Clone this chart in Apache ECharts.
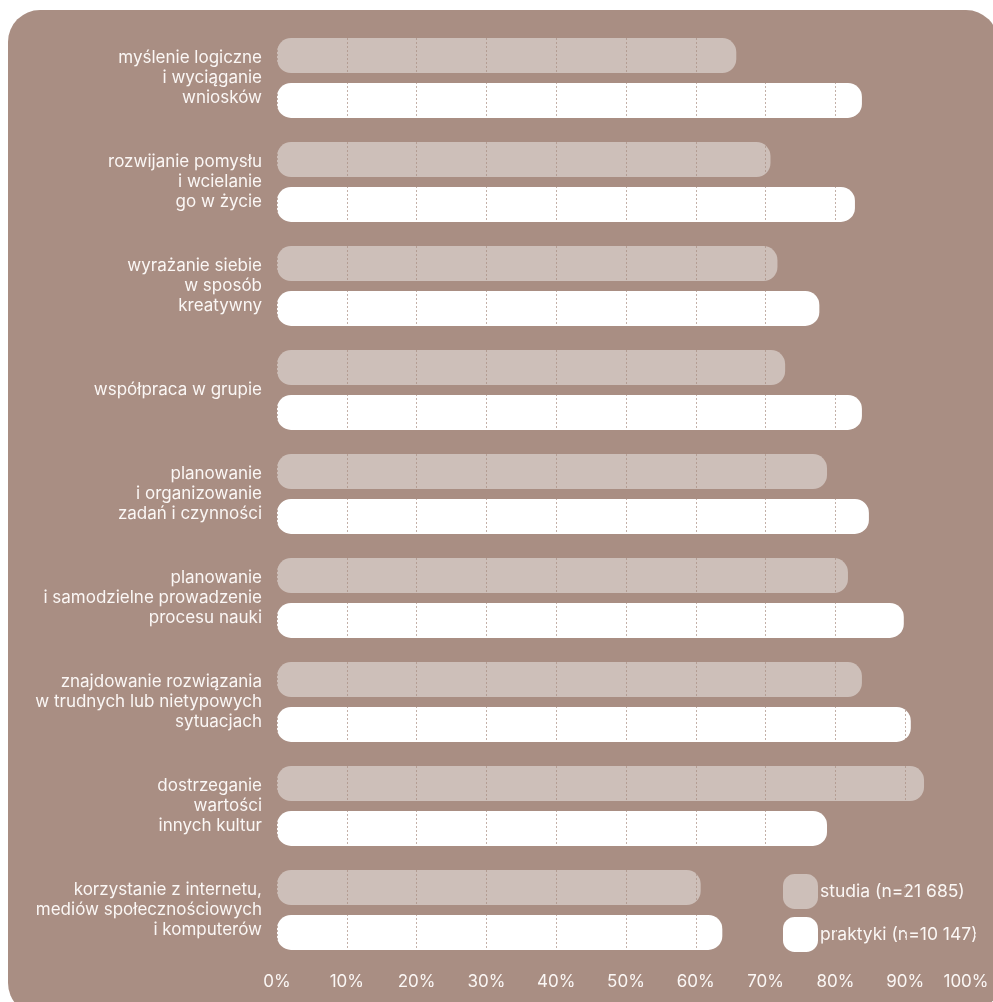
<!DOCTYPE html>
<html>
<head>
<meta charset="utf-8">
<script src="https://cdn.jsdelivr.net/npm/echarts@6/dist/echarts.min.js"></script>
<style>
html,body{margin:0;padding:0;background:#ffffff;}
#c{width:993px;height:1002px;}
</style>
</head>
<body>
<div id="c"></div>
<script>
const categories = [
  "myślenie logiczne\ni wyciąganie\nwniosków",
  "rozwijanie pomysłu\ni wcielanie\ngo w życie",
  "wyrażanie siebie\nw sposób\nkreatywny",
  "współpraca w grupie",
  "planowanie\ni organizowanie\nzadań i czynności",
  "planowanie\ni samodzielne prowadzenie\nprocesu nauki",
  "znajdowanie rozwiązania\nw trudnych lub nietypowych\nsytuacjach",
  "dostrzeganie\nwartości\ninnych kultur",
  "korzystanie z internetu,\nmediów społecznościowych\ni komputerów"
];
const studia = [65.8, 70.7, 71.7, 72.8, 78.8, 81.8, 83.8, 92.7, 60.7];
const praktyki = [83.8, 82.8, 77.7, 83.8, 84.8, 89.8, 90.8, 78.8, 63.8];
const seriesNames = ["studia (n=21 685)", "praktyki (n=10 147)"];
const tickValues = [0, 10, 20, 30, 40, 50, 60, 70, 80, 90, 100];

const BG = '#a98e83';
const TXT = '#fbf7f5';
const FONT = 'Inter, "Open Sans", sans-serif';
const ROUND_ICON = 'path://M12,0 H24 A12,12 0 0 1 36,12 V24 A12,12 0 0 1 24,36 H12 A12,12 0 0 1 0,24 V12 A12,12 0 0 1 12,0 Z';
const chart = echarts.init(document.getElementById('c'));
chart.setOption({
  backgroundColor: 'transparent',
  animation: false,
  graphic: [{
    type: 'rect', left: 8, top: 10, z: -10, silent: true,
    shape: {width: 990, height: 1005, r: 32},
    style: {fill: BG}
  }],
  textStyle: {fontFamily: FONT},
  grid: {left: 277, right: 18, top: 26, bottom: 40, containLabel: false},
  xAxis: {
    type: 'value', min: 0, max: 100, interval: 10, z: 5,
    axisLine: {show: false}, axisTick: {show: false},
    splitLine: {show: true, lineStyle: {color: 'rgba(169,142,131,0.7)', type: [2, 2], width: 1}},
    axisLabel: {
      color: TXT, fontSize: 17, fontFamily: FONT, margin: 11,
      formatter: function (v) { return v === 100 ? '{m|' + v + '%}' : v + '%'; },
      rich: {m: {color: TXT, fontSize: 17, fontFamily: FONT, padding: [0, 18, 0, 0]}}
    }
  },
  yAxis: {
    type: 'category', data: categories, inverse: true,
    axisLine: {show: false}, axisTick: {show: false}, splitLine: {show: false},
    axisLabel: {color: TXT, fontSize: 17, fontFamily: FONT, lineHeight: 20, margin: 15, align: 'right'}
  },
  legend: {
    orient: 'vertical', left: 778, top: 869,
    itemWidth: 35, itemHeight: 36, itemGap: 8,
    icon: ROUND_ICON,
    textStyle: {color: TXT, fontSize: 17.5, fontFamily: FONT, padding: [0, 0, 0, -3]},
    data: seriesNames
  },
  series: [
    {
      name: seriesNames[0], type: 'bar', data: studia, barWidth: 35, barGap: '28%',
      itemStyle: {color: '#cdbfb9', borderRadius: 14}
    },
    {
      name: seriesNames[1], type: 'bar', data: praktyki, barWidth: 35, barGap: '28%',
      itemStyle: {color: '#ffffff', borderRadius: 14}
    }
  ]
});
</script>
</body>
</html>
